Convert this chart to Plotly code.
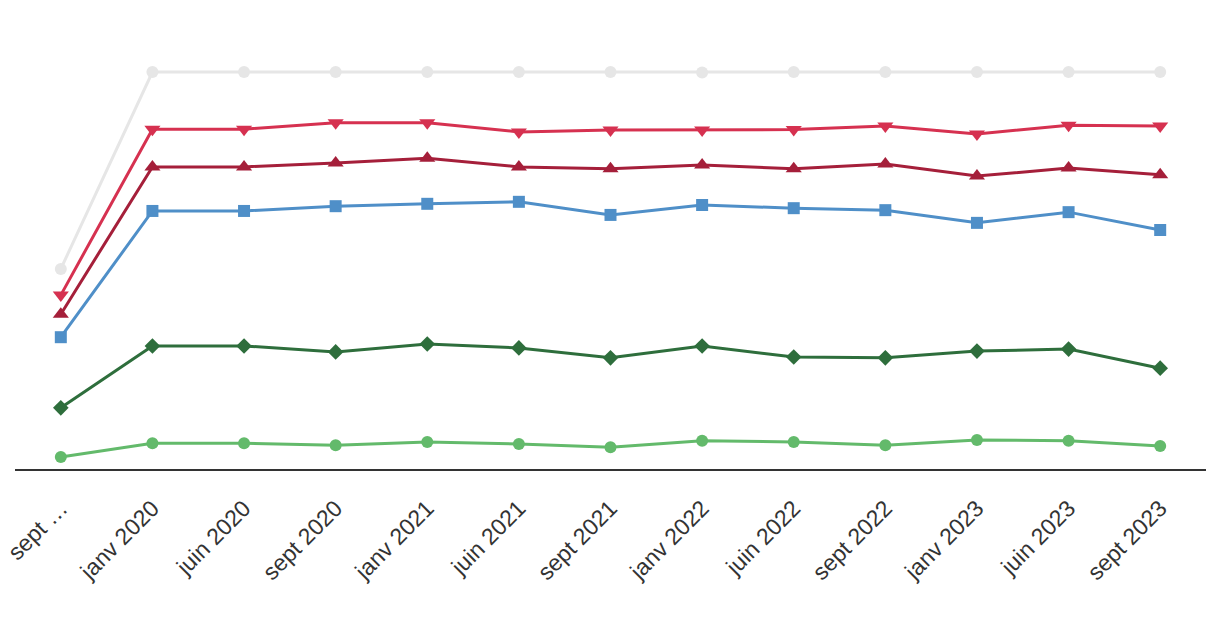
import plotly.graph_objects as go

categories = ["sept 2019", "janv 2020", "juin 2020", "sept 2020", "janv 2021", "juin 2021",
              "sept 2021", "janv 2022", "juin 2022", "sept 2022", "janv 2023", "juin 2023", "sept 2023"]
tick_labels = ["sept …", "janv 2020", "juin 2020", "sept 2020", "janv 2021", "juin 2021",
               "sept 2021", "janv 2022", "juin 2022", "sept 2022", "janv 2023", "juin 2023", "sept 2023"]

gray_vals = [50.4, 100.0, 100.0, 100.0, 100.0, 100.0, 100.0, 99.9, 100.0, 100.0, 100.0, 100.0, 100.0]
red_vals = [43.8, 85.6, 85.6, 87.2, 87.2, 84.9, 85.4, 85.4, 85.5, 86.4, 84.4, 86.6, 86.4]
darkred_vals = [39.0, 76.1, 76.1, 77.1, 78.3, 76.1, 75.6, 76.6, 75.6, 76.8, 73.8, 75.8, 74.1]
blue_vals = [33.2, 65.0, 65.0, 66.2, 66.8, 67.3, 64.0, 66.5, 65.7, 65.2, 62.0, 64.7, 60.2]
darkgreen_vals = [15.4, 31.0, 31.0, 29.5, 31.5, 30.5, 28.0, 31.0, 28.2, 28.0, 29.7, 30.2, 25.4]
lightgreen_vals = [3.0, 6.5, 6.5, 6.0, 6.8, 6.3, 5.5, 7.1, 6.8, 6.0, 7.3, 7.1, 5.8]

series = [
    ("Série 1", gray_vals, "#e6e6e6", "circle", 12),
    ("Série 2", red_vals, "#d63150", "triangle-down", 14),
    ("Série 3", darkred_vals, "#a51f3a", "triangle-up", 14),
    ("Série 4", blue_vals, "#4f8fc8", "square", 12),
    ("Série 5", darkgreen_vals, "#2e6e3c", "diamond", 12),
    ("Série 6", lightgreen_vals, "#63ba6b", "circle", 12),
]

fig = go.Figure()
for name, vals, color, sym, size in series:
    fig.add_trace(go.Scatter(
        x=categories, y=vals, name=name, mode="lines+markers",
        line=dict(color=color, width=3),
        marker=dict(color=color, symbol=sym, size=size),
        cliponaxis=False,
    ))

fig.update_layout(
    width=1222, height=618,
    margin=dict(l=7, r=24, t=12, b=157, autoexpand=False),
    paper_bgcolor="white", plot_bgcolor="white",
    showlegend=False,
    font=dict(family="Liberation Sans, Arial, sans-serif", size=23, color="#333333"),
    xaxis=dict(
        type="category", categoryorder="array", categoryarray=categories,
        tickmode="array", tickvals=categories, ticktext=tick_labels,
        tickangle=-45, range=[-0.5, 12.5], automargin=False,
        ticklabelstandoff=15,
        showline=True, linecolor="#333333", linewidth=1.5,
        showgrid=False, zeroline=False, ticks="",
    ),
    yaxis=dict(
        range=[0, 113.1], visible=False, showgrid=False, zeroline=False,
        automargin=False,
    ),
)

fig.write_html("out.html")
